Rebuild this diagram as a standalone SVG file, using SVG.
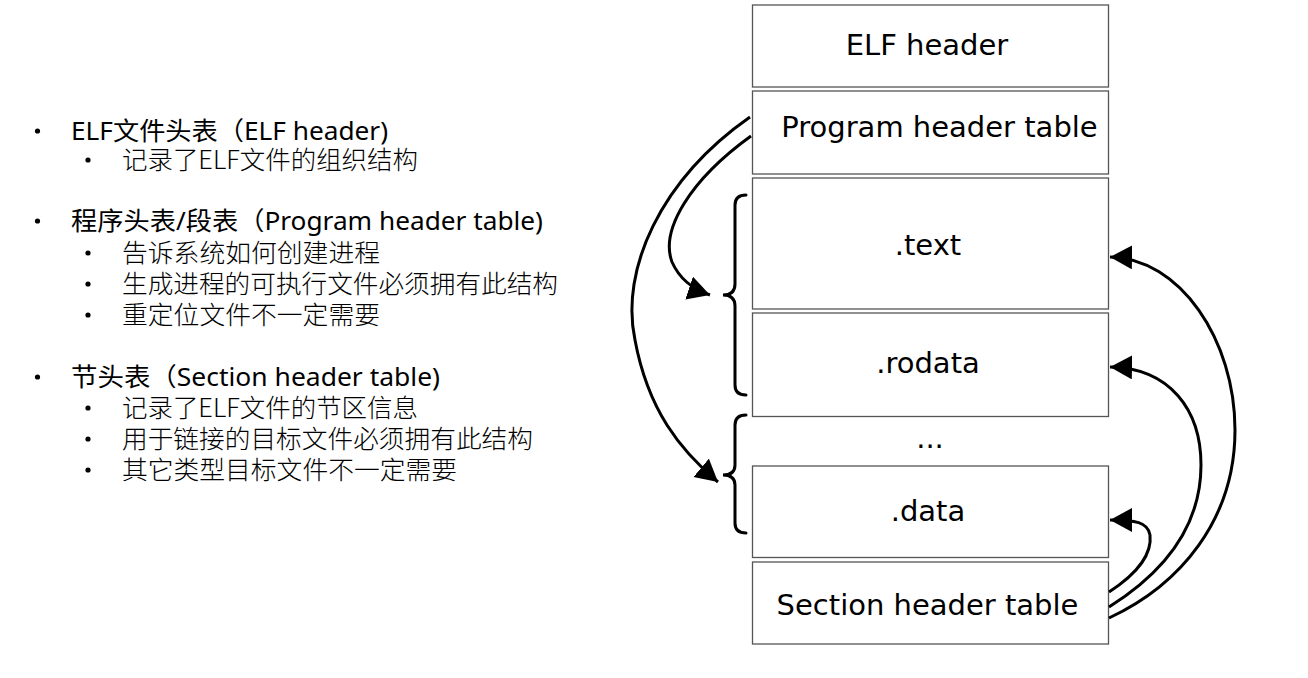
<svg xmlns="http://www.w3.org/2000/svg" width="1308" height="678" viewBox="0 0 1308 678">
<defs>
<style>
.box{fill:#fff;stroke:#555;stroke-width:1.3}
.bt{font-family:"DejaVu Sans",sans-serif;font-size:29px;fill:#000;text-anchor:middle}
.main{font-family:"Noto Sans","Noto Sans CJK SC",sans-serif;font-size:25.5px;fill:#000}
.sub{font-family:"Noto Sans CJK SC","Noto Sans",sans-serif;font-size:25.5px;font-weight:300;fill:#000}
.conn{fill:none;stroke:#000;stroke-width:3}
.brace{fill:none;stroke:#000;stroke-width:3;stroke-linecap:round}
</style>
<marker id="ah" markerUnits="userSpaceOnUse" markerWidth="24" markerHeight="26" refX="22" refY="12" orient="auto">
<path d="M0,0 L22,12 L0,24 z" fill="#000"/>
</marker>
</defs>
<rect width="1308" height="678" fill="#fff"/>

<g id="notes">
<circle cx="37.5" cy="131" r="2.6"/>
<text class="main" x="71" y="140" textLength="317" lengthAdjust="spacingAndGlyphs">ELF文件头表（ELF header)</text>
<circle cx="88" cy="160" r="2.6"/>
<text class="sub" x="122" y="169" textLength="296" lengthAdjust="spacingAndGlyphs">记录了ELF文件的组织结构</text>

<circle cx="37.5" cy="221" r="2.6"/>
<text class="main" x="71" y="230" textLength="472" lengthAdjust="spacingAndGlyphs">程序头表/段表（Program header table)</text>
<circle cx="88" cy="253" r="2.6"/>
<text class="sub" x="122" y="262" textLength="258" lengthAdjust="spacingAndGlyphs">告诉系统如何创建进程</text>
<circle cx="88" cy="284" r="2.6"/>
<text class="sub" x="122" y="293" textLength="436" lengthAdjust="spacingAndGlyphs">生成进程的可执行文件必须拥有此结构</text>
<circle cx="88" cy="315" r="2.6"/>
<text class="sub" x="122" y="324" textLength="258" lengthAdjust="spacingAndGlyphs">重定位文件不一定需要</text>

<circle cx="37.5" cy="377" r="2.6"/>
<text class="main" x="71" y="386" textLength="369" lengthAdjust="spacingAndGlyphs">节头表（Section header table)</text>
<circle cx="88" cy="408" r="2.6"/>
<text class="sub" x="122" y="417" textLength="296" lengthAdjust="spacingAndGlyphs">记录了ELF文件的节区信息</text>
<circle cx="88" cy="439" r="2.6"/>
<text class="sub" x="122" y="448" textLength="411" lengthAdjust="spacingAndGlyphs">用于链接的目标文件必须拥有此结构</text>
<circle cx="88" cy="470" r="2.6"/>
<text class="sub" x="122" y="479" textLength="335" lengthAdjust="spacingAndGlyphs">其它类型目标文件不一定需要</text>
</g>

<g id="elf-header"><rect class="box" x="752.5" y="5" width="356" height="82"/><text class="bt" x="927" y="55">ELF header</text></g>
<g id="program-header-table"><rect class="box" x="752.5" y="91" width="356" height="83"/><text class="bt" x="939.5" y="137">Program header table</text></g>
<g id="text"><rect class="box" x="752.5" y="178" width="356" height="131"/><text class="bt" x="928" y="255">.text</text></g>
<g id="rodata"><rect class="box" x="752.5" y="313" width="356" height="103.5"/><text class="bt" x="928" y="373">.rodata</text></g>
<g id="ellipsis"><text class="bt" x="930" y="448">...</text></g>
<g id="data"><rect class="box" x="752.5" y="466" width="356" height="91.5"/><text class="bt" x="928" y="521">.data</text></g>
<g id="section-header-table"><rect class="box" x="752.5" y="562" width="356" height="82"/><text class="bt" x="927.5" y="615">Section header table</text></g>

<g id="braces">
<path class="brace" d="M746,195 Q735,195 735,205 L735,284 Q735,295 723,295 Q735,295 735,306 L735,385 Q735,395 746,395"/>
<path class="brace" d="M746,415 Q735,415 735,425 L735,465 Q735,475 723,475 Q735,475 735,485 L735,523 Q735,533 746,533"/>
</g>

<g id="connectors">
<path class="conn" marker-end="url(#ah)" d="M751,136 C690,180 660,230 672,262 C680,280 695,290 710,295"/>
<path class="conn" marker-end="url(#ah)" d="M750,117 C660,180 620,270 635,340 C648,410 680,450 718,482"/>
<path class="conn" marker-end="url(#ah)" d="M1109,618 C1180,585 1235,520 1235,430 C1235,340 1180,258 1110,257"/>
<path class="conn" marker-end="url(#ah)" d="M1109,607 C1160,575 1201,530 1201,465 C1201,410 1170,368 1110,367"/>
<path class="conn" marker-end="url(#ah)" d="M1109,592 C1140,572 1152,552 1150,535 C1148,522 1135,520 1110,520"/>
</g>
</svg>
